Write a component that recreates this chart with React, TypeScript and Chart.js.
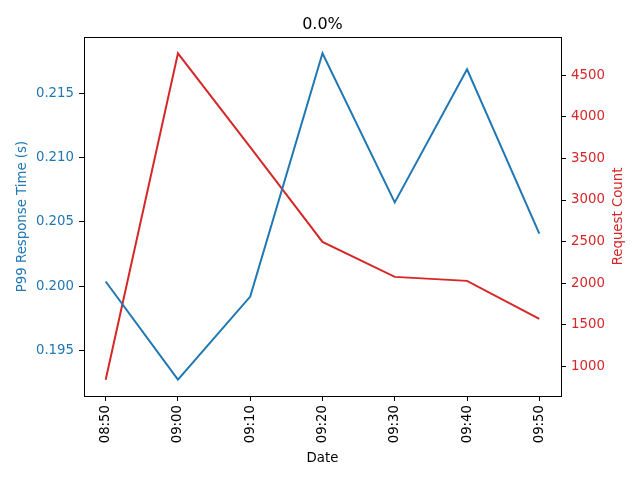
import React, { useEffect, useRef } from "react";
import { Chart, registerables } from "chart.js";

Chart.register(...registerables);

const TIME_LABELS = ["08:50", "09:00", "09:10", "09:20", "09:30", "09:40", "09:50"];
const P99_RESPONSE = [0.20037, 0.19274, 0.1992, 0.21811, 0.20652, 0.21687, 0.2041];
const REQUEST_COUNT = [840, 4764, 3636, 2496, 2076, 2028, 1572];
const LEFT_TICKS = [0.195, 0.2, 0.205, 0.21, 0.215];
const RIGHT_TICKS = [1000, 1500, 2000, 2500, 3000, 3500, 4000, 4500];
const TITLE = "0.0%";
const X_TITLE = "Date";
const LEFT_TITLE = "P99 Response Time (s)";
const RIGHT_TITLE = "Request Count";

const BLUE = "#1f77b4";
const RED = "#d62728";
const FONT = "'DejaVu Sans', sans-serif";

function pad(min: number, max: number) {
  const r = max - min;
  return { min: min - r * 0.05, max: max + r * 0.05 };
}

export default function App() {
  const ref = useRef<HTMLCanvasElement | null>(null);

  useEffect(() => {
    if (!ref.current) return;
    const leftR = pad(Math.min(...P99_RESPONSE), Math.max(...P99_RESPONSE));
    const rightR = pad(Math.min(...REQUEST_COUNT), Math.max(...REQUEST_COUNT));
    const xR = pad(0, TIME_LABELS.length - 1);

    const decor = {
      id: "decor",
      afterDraw(chart: any) {
        const { ctx, chartArea } = chart;
        const { left, right, top, bottom } = chartArea;
        ctx.save();
        ctx.strokeStyle = "#000";
        ctx.lineWidth = 1;
        ctx.strokeRect(Math.round(left) + 0.5, Math.round(top) + 0.5, Math.round(right - left), Math.round(bottom - top));
        const cx = (left + right) / 2;
        const cy = (top + bottom) / 2;
        ctx.textAlign = "center";
        ctx.textBaseline = "alphabetic";
        ctx.fillStyle = "#000";
        ctx.font = `16px ${FONT}`;
        ctx.fillText(TITLE, cx, 29);
        ctx.font = `13.3px ${FONT}`;
        ctx.fillText(X_TITLE, cx, 462);
        ctx.save();
        ctx.translate(25.5, cy);
        ctx.rotate(-Math.PI / 2);
        ctx.fillStyle = BLUE;
        ctx.fillText(LEFT_TITLE, 0, 0);
        ctx.restore();
        ctx.save();
        ctx.translate(621.5, cy);
        ctx.rotate(-Math.PI / 2);
        ctx.fillStyle = RED;
        ctx.fillText(RIGHT_TITLE, 0, 0);
        ctx.restore();
        ctx.restore();
      },
    };

    const chart = new Chart(ref.current, {
      type: "line",
      data: {
        datasets: [
          {
            label: LEFT_TITLE,
            data: P99_RESPONSE.map((v, i) => ({ x: i, y: v })),
            borderColor: BLUE,
            backgroundColor: BLUE,
            borderWidth: 2,
            pointRadius: 0,
            tension: 0,
            yAxisID: "y",
          },
          {
            label: RIGHT_TITLE,
            data: REQUEST_COUNT.map((v, i) => ({ x: i, y: v })),
            borderColor: RED,
            backgroundColor: RED,
            borderWidth: 2,
            pointRadius: 0,
            tension: 0,
            yAxisID: "y1",
          },
        ],
      },
      options: {
        responsive: false,
        animation: false,
        layout: { padding: { top: 37, left: 0, right: 0, bottom: 0 } },
        plugins: {
          legend: { display: false },
          title: { display: false },
          tooltip: { enabled: false },
        },
        scales: {
          x: {
            type: "linear",
            min: xR.min,
            max: xR.max,
            afterBuildTicks: (s: any) => {
              s.ticks = TIME_LABELS.map((_, i) => ({ value: i }));
            },
            afterFit: (s: any) => {
              s.height = 84;
            },
            grid: { drawOnChartArea: false, tickLength: 5, tickColor: "#000", tickWidth: 1 },
            border: { color: "#000", width: 1 },
            ticks: {
              minRotation: 90,
              maxRotation: 90,
              padding: 4,
              color: "#000",
              font: { family: FONT, size: 13.3 },
              callback: (v: any) => TIME_LABELS[Math.round(Number(v))] ?? "",
            },
          },
          y: {
            type: "linear",
            position: "left",
            min: leftR.min,
            max: leftR.max,
            afterBuildTicks: (s: any) => {
              s.ticks = LEFT_TICKS.map((v) => ({ value: v }));
            },
            afterFit: (s: any) => {
              s.width = 84;
            },
            grid: { drawOnChartArea: false, tickLength: 5, tickColor: "#000", tickWidth: 1 },
            border: { color: "#000", width: 1 },
            ticks: {
              padding: 5,
              color: BLUE,
              font: { family: FONT, size: 13.3 },
              callback: (v: any) => Number(v).toFixed(3),
            },
          },
          y1: {
            type: "linear",
            position: "right",
            min: rightR.min,
            max: rightR.max,
            afterBuildTicks: (s: any) => {
              s.ticks = RIGHT_TICKS.map((v) => ({ value: v }));
            },
            afterFit: (s: any) => {
              s.width = 79;
            },
            grid: { drawOnChartArea: false, tickLength: 5, tickColor: "#000", tickWidth: 1 },
            border: { color: "#000", width: 1 },
            ticks: {
              padding: 5,
              color: RED,
              font: { family: FONT, size: 13.3 },
              callback: (v: any) => String(Math.round(Number(v))),
            },
          },
        },
      },
      plugins: [decor],
    } as any);
    return () => chart.destroy();
  }, []);

  return (
    <div style={{ position: "fixed", left: 0, top: 0, width: 640, height: 480, background: "#fff" }}>
      <canvas ref={ref} width={640} height={480} style={{ display: "block", width: 640, height: 480 }} />
    </div>
  );
}
